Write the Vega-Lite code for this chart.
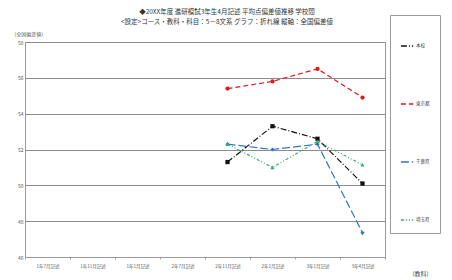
{
  "$schema": "https://vega.github.io/schema/vega-lite/v6.json",
  "width": 360,
  "height": 215,
  "autosize": {"type": "none"},
  "padding": {"left": 25, "top": 42, "right": 67, "bottom": 23},
  "background": "white",
  "config": {
    "font": "Noto Sans CJK JP",
    "view": {"stroke": "#9a9a9a", "strokeWidth": 1}
  },
  "title": {
    "text": ["◆20XX年度 進研模試3年生4月記述 平均点偏差値推移 学校間", "<設定>コース・教科・科目：5－8文系 グラフ：折れ線 縦軸：全国偏差値"],
    "fontSize": 6.5,
    "fontWeight": "normal",
    "color": "#333333",
    "lineHeight": 10,
    "anchor": "middle",
    "dx": 22,
    "offset": -11
  },
  "data": {
    "values": [
      {"period": "2年11月記述", "series": "本校", "value": 51.3},
      {"period": "2年1月記述", "series": "本校", "value": 53.3},
      {"period": "3年1月記述", "series": "本校", "value": 52.6},
      {"period": "3年4月記述", "series": "本校", "value": 50.1},
      {"period": "2年11月記述", "series": "東京都", "value": 55.4},
      {"period": "2年1月記述", "series": "東京都", "value": 55.8},
      {"period": "3年1月記述", "series": "東京都", "value": 56.5},
      {"period": "3年4月記述", "series": "東京都", "value": 54.9},
      {"period": "2年11月記述", "series": "千葉県", "value": 52.3},
      {"period": "2年1月記述", "series": "千葉県", "value": 52.0},
      {"period": "3年1月記述", "series": "千葉県", "value": 52.3},
      {"period": "3年4月記述", "series": "千葉県", "value": 47.35},
      {"period": "2年11月記述", "series": "埼玉県", "value": 52.3},
      {"period": "2年1月記述", "series": "埼玉県", "value": 51.0},
      {"period": "3年1月記述", "series": "埼玉県", "value": 52.45},
      {"period": "3年4月記述", "series": "埼玉県", "value": 51.15}
    ]
  },
  "encoding": {
    "x": {
      "field": "period",
      "type": "nominal",
      "sort": null,
      "bandPosition": 0.5,
      "scale": {
        "type": "band",
        "domain": ["1年7月記述", "1年11月記述", "1年1月記述", "2年7月記述", "2年11月記述", "2年1月記述", "3年1月記述", "3年4月記述"],
        "paddingInner": 0,
        "paddingOuter": 0
      },
      "axis": {
        "title": "(教科)",
        "titleFontSize": 6,
        "titleFontWeight": "normal",
        "titleColor": "#444444",
        "titleX": 395,
        "titleY": 16,
        "titleAlign": "center",
        "titleBaseline": "middle",
        "labelAngle": 0,
        "labelFontSize": 4.5,
        "labelColor": "#555555",
        "labelPadding": 4,
        "tickBand": "extent",
        "tickSize": 2,
        "tickColor": "#9a9a9a",
        "domainColor": "#9a9a9a",
        "grid": false
      }
    },
    "y": {
      "field": "value",
      "type": "quantitative",
      "scale": {"domain": [46, 58], "zero": false, "nice": false},
      "axis": {
        "values": [46, 48, 50, 52, 54, 56, 58],
        "title": "(全国偏差値)",
        "titleAngle": 0,
        "titleAlign": "left",
        "titleBaseline": "middle",
        "titleX": -11,
        "titleY": -9,
        "titleFontSize": 5,
        "titleFontWeight": "normal",
        "titleColor": "#555555",
        "labelFontSize": 5,
        "labelColor": "#555555",
        "labelPadding": 2,
        "ticks": false,
        "domainColor": "#9a9a9a",
        "grid": true,
        "gridColor": "#8c8c8c",
        "gridWidth": 1.2
      }
    },
    "color": {
      "field": "series",
      "type": "nominal",
      "sort": ["本校", "東京都", "千葉県", "埼玉県"],
      "scale": {
        "domain": ["本校", "東京都", "千葉県", "埼玉県"],
        "range": ["#111111", "#e8141c", "#2e78c0", "#3aaa6e"]
      },
      "legend": {
        "title": " ",
        "titleFontSize": 6,
        "titlePadding": 8,
        "orient": "none",
        "legendX": 365,
        "legendY": -27,
        "strokeColor": "#9a9a9a",
        "padding": 10,
        "rowPadding": 48,
        "labelFontSize": 4.5,
        "labelColor": "#444444",
        "labelOffset": 2,
        "symbolType": "stroke",
        "symbolSize": 150,
        "symbolStrokeWidth": 1.3
      }
    }
  },
  "layer": [
    {
      "mark": {"type": "line", "strokeWidth": 1.2},
      "encoding": {
        "strokeDash": {
          "field": "series",
          "type": "nominal",
          "sort": ["本校", "東京都", "千葉県", "埼玉県"],
          "scale": {
            "domain": ["本校", "東京都", "千葉県", "埼玉県"],
            "range": [[6, 2, 1, 2], [5, 3], [8, 3], [3, 2, 1, 2, 1, 2]]
          }
        }
      }
    },
    {
      "transform": [{"filter": "datum.series === '本校'"}],
      "mark": {"type": "point", "shape": "square", "filled": true, "size": 18, "opacity": 1}
    },
    {
      "transform": [{"filter": "datum.series === '東京都'"}],
      "mark": {"type": "point", "shape": "circle", "filled": true, "size": 18, "opacity": 1}
    },
    {
      "transform": [{"filter": "datum.series === '千葉県'"}],
      "mark": {"type": "point", "shape": "diamond", "filled": true, "size": 18, "opacity": 1}
    },
    {
      "transform": [{"filter": "datum.series === '埼玉県'"}],
      "mark": {"type": "point", "shape": "triangle-up", "filled": true, "size": 18, "opacity": 1}
    }
  ]
}
